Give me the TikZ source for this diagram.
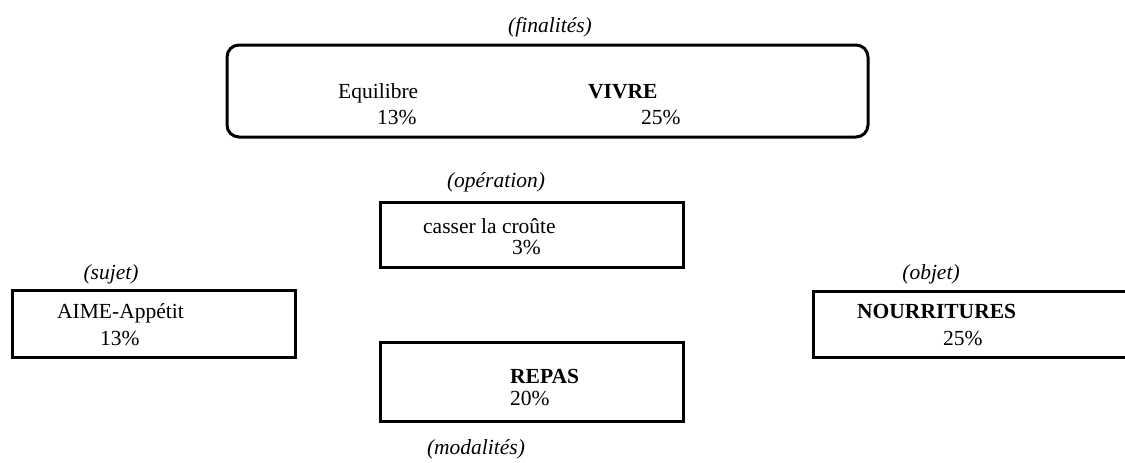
\documentclass[tikz,border=0pt]{standalone}
\usepackage{fontspec}
\setmainfont{Liberation Serif}
\usetikzlibrary{positioning}

\begin{document}
\begin{tikzpicture}[x=1pt, y=-1pt,
  cadre/.style={draw, line width=3pt, inner sep=0pt},
  txt/.style={anchor=base west, inner sep=0pt, font=\fontsize{21.5}{26}\selectfont},
  role/.style={anchor=base, inner sep=0pt, font=\fontsize{21.5}{26}\selectfont\itshape},
]
  \clip (0,0) rectangle (1125,463);

  % finalites
  \node[role] (finalites) at (550,32) {(finalités)};
  \node[cadre, rounded corners=12pt, minimum width=641pt, minimum height=92pt] (vivre) at (547.5,91) {};
  \node[txt] (equilibre) at (338,98) {Equilibre};
  \node[txt] (equilibrep) at (377,124) {13\%};
  \node[txt] (vivretxt) at (588,98) {\textbf{VIVRE}};
  \node[txt] (vivrep) at (641,124) {25\%};

  % operation
  \node[role] (operation) at (496,187) {(opération)};
  \node[cadre, minimum width=303pt, minimum height=65pt] (croute) at (531.5,234.5) {};
  \node[txt] (crouttxt) at (423,233) {casser la croûte};
  \node[txt] (croutep) at (512,254) {3\%};

  % sujet
  \node[role] (sujet) at (111,279) {(sujet)};
  \node[cadre, minimum width=283pt, minimum height=67pt] (aime) at (153.5,324) {};
  \node[txt] (aimetxt) at (57,318) {AIME-Appétit};
  \node[txt] (aimep) at (100,345) {13\%};

  % objet
  \node[role] (objet) at (931,279) {(objet)};
  \node[cadre, minimum width=316pt, minimum height=66pt] (nourr) at (971,324) {};
  \node[txt] (nourrtxt) at (857,318) {\textbf{NOURRITURES}};
  \node[txt] (nourrp) at (943,345) {25\%};

  % modalites
  \node[cadre, minimum width=303pt, minimum height=79pt] (repas) at (531.5,381.5) {};
  \node[txt] (repastxt) at (510,383) {\textbf{REPAS}};
  \node[txt] (repasp) at (510,405) {20\%};
  \node[role] (modalites) at (476,454) {(modalités)};
\end{tikzpicture}
\end{document}
